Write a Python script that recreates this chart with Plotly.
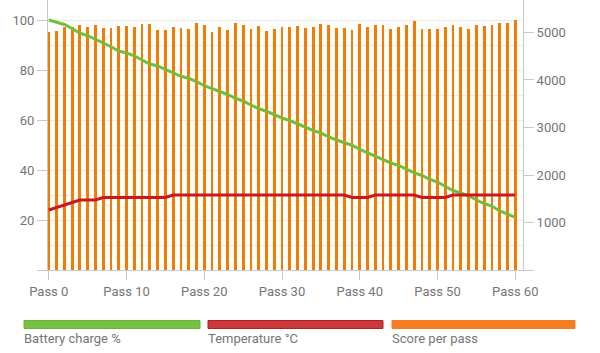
import plotly.graph_objects as go

passes = list(range(61))
tick_passes = [0, 10, 20, 30, 40, 50, 60]
tick_labels = ["Pass 0", "Pass 10", "Pass 20", "Pass 30", "Pass 40", "Pass 50", "Pass 60"]

battery = [100, 99.2, 98.2, 96.6, 94.7, 93.7, 92.4, 90.8, 89.3, 87.6,
           86.8, 85.7, 84.0, 82.4, 81.6, 80.2, 78.6, 77.5, 76.7, 75.4,
           73.7, 72.6, 71.6, 70.2, 68.7, 67.6, 66.0, 64.5, 63.5, 62.0,
           60.8, 59.8, 58.4, 56.9, 55.8, 54.8, 53.2, 52.0, 51.0, 49.9,
           48.2, 46.9, 45.5, 44.0, 42.8, 41.8, 40.3, 38.9, 37.8, 36.3,
           35.2, 33.6, 31.8, 30.8, 29.7, 28.0, 26.6, 25.6, 23.6, 22.4,
           21.0]

temperature = [24, 25, 26, 27, 28, 28, 28, 29, 29, 29,
               29, 29, 29, 29, 29, 29, 30, 30, 30, 30,
               30, 30, 30, 30, 30, 30, 30, 30, 30, 30,
               30, 30, 30, 30, 30, 30, 30, 30, 30, 29,
               29, 29, 30, 30, 30, 30, 30, 30, 29, 29,
               29, 29, 30, 30, 30, 30, 30, 30, 30, 30,
               30]

score = [5011, 5032, 5116, 5116, 5151, 5116, 5165, 5102, 5102, 5130,
         5137, 5123, 5186, 5172, 5060, 5060, 5123, 5102, 5081, 5207,
         5151, 5011, 5116, 5046, 5207, 5151, 5067, 5137, 5039, 5067,
         5123, 5109, 5130, 5102, 5109, 5186, 5151, 5095, 5095, 5046,
         5186, 5123, 5165, 5165, 5081, 5123, 5165, 5235, 5081, 5081,
         5067, 5123, 5151, 5109, 5067, 5165, 5137, 5165, 5193, 5193,
         5270]

left_ticks = [0, 20, 40, 60, 80, 100]
left_labels = ["", "20", "40", "60", "80", "100"]
right_ticks = [0, 1000, 2000, 3000, 4000, 5000]
right_labels = ["", "1000", "2000", "3000", "4000", "5000"]

legend_names = ["Battery charge %", "Temperature °C", "Score per pass"]
legend_fill = ["#76c043", "#c93a3c", "#f47c22"]
legend_line = ["#66b43a", "#b51f24", "#f47c22"]

GREEN = "#72be3a"
RED = "#c8171f"
ORANGE = "#f57c00"
GRAY = "#757575"
AXIS = "#c8c8c8"

W, H = 600, 353
ML, MR, MT, MB = 48, 77, 0, 83
PW, PH = W - ML - MR, H - MT - MB


def px(x):
    return (x - ML) / PW


def py(y):
    return (H - MB - y) / PH


fig = go.Figure()
fig.add_trace(go.Bar(x=passes, y=score, name=legend_names[2], yaxis="y",
                     marker=dict(color=ORANGE, line=dict(width=0)), width=0.36))
fig.add_trace(go.Scatter(x=passes, y=battery, name=legend_names[0], yaxis="y2",
                         mode="lines", line=dict(color=GREEN, width=3)))
fig.add_trace(go.Scatter(x=passes, y=temperature, name=legend_names[1], yaxis="y2",
                         mode="lines", line=dict(color=RED, width=3)))

font = dict(family="Roboto", size=13, color=GRAY)

fig.update_layout(
    width=W, height=H,
    margin=dict(l=ML, r=MR, t=MT, b=MB),
    paper_bgcolor="white", plot_bgcolor="white",
    showlegend=False,
    font=font,
    xaxis=dict(range=[-0.1, 61], tickvals=tick_passes, ticktext=tick_labels,
               showgrid=False, zeroline=False, showline=True, linecolor=AXIS, linewidth=1,
               ticks="outside", ticklen=9, tickcolor=AXIS, tickfont=font),
    yaxis=dict(side="right", range=[0, 5684], tickvals=right_ticks, ticktext=right_labels,
               showgrid=False, zeroline=False, showline=True, linecolor=AXIS,
               ticks="outside", ticklen=10, tickcolor=AXIS, tickfont=font),
    yaxis2=dict(side="left", overlaying="y", range=[0, 108], tickvals=left_ticks,
                ticktext=left_labels, showgrid=True, gridcolor="#ebebeb",
                minor=dict(dtick=10, tick0=0, showgrid=True, gridcolor="#ebebeb", ticks=""),
                zeroline=False, showline=True, linecolor=AXIS,
                ticks="outside", ticklen=10, tickcolor=AXIS, tickfont=font),
    bargap=0,
)

legend_x = [(24, 200), (208, 383), (392, 575)]
shapes = []
annotations = []
for (x0, x1), name, fc, lc in zip(legend_x, legend_names, legend_fill, legend_line):
    shapes.append(dict(type="rect", xref="paper", yref="paper",
                       x0=px(x0), x1=px(x1), y0=py(328.5), y1=py(320.5),
                       fillcolor=fc, line=dict(color=lc, width=1)))
    annotations.append(dict(text=name, xref="paper", yref="paper", x=px(x0 - 2), y=py(338),
                            xanchor="left", yanchor="middle", showarrow=False,
                            font=dict(family="Roboto", size=13, color=GRAY)))
fig.update_layout(shapes=shapes, annotations=annotations)

fig.write_html("out.html")
